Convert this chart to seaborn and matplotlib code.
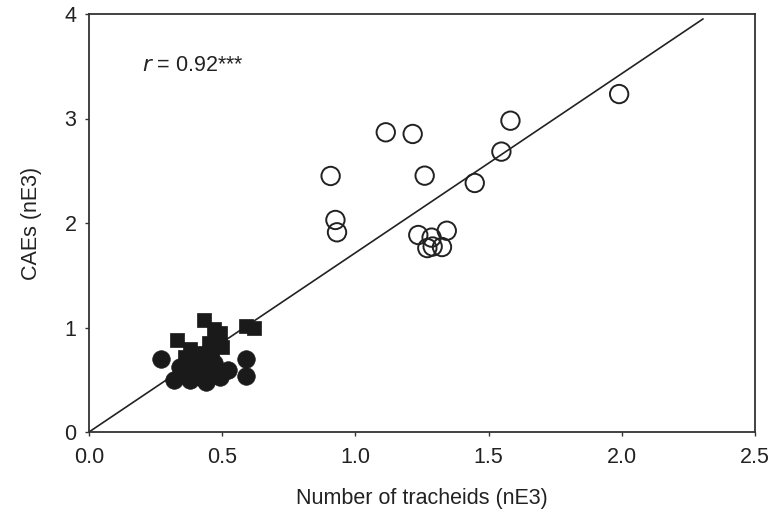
import matplotlib
matplotlib.use("Agg")
import matplotlib.pyplot as plt
import seaborn as sns
import pandas as pd
import numpy as np

sns.set_theme(style="white")
plt.rcParams['font.family'] = ['Liberation Sans', 'DejaVu Sans']

# Open circles
open_x = [1.114, 1.215, 0.907, 1.260, 1.582, 1.548, 1.990, 1.448, 0.925, 0.931,
          1.236, 1.286, 1.343, 1.270, 1.290, 1.325]
open_y = [2.868, 2.852, 2.450, 2.453, 2.979, 2.683, 3.234, 2.383, 2.029, 1.911,
          1.885, 1.860, 1.926, 1.760, 1.775, 1.770]

# Filled squares
sq_x = [0.43, 0.59, 0.62, 0.33, 0.47, 0.48, 0.50, 0.38, 0.43, 0.40, 0.46, 0.36, 0.49, 0.45, 0.42]
sq_y = [1.07, 1.01, 1.00, 0.88, 0.99, 0.92, 0.81, 0.79, 0.76, 0.69, 0.72, 0.72, 0.95, 0.85, 0.62]

# Filled circles
fc_x = [0.27, 0.59, 0.59, 0.52, 0.32, 0.38, 0.44, 0.49, 0.34, 0.40, 0.45, 0.47, 0.36, 0.42, 0.47]
fc_y = [0.70, 0.70, 0.54, 0.59, 0.50, 0.50, 0.48, 0.53, 0.62, 0.56, 0.60, 0.55, 0.58, 0.53, 0.66]

# Regression line through origin
line_slope = 1.715
line_x = [0.0, 2.305]

x_ticks = [0.0, 0.5, 1.0, 1.5, 2.0, 2.5]
y_ticks = [0, 1, 2, 3, 4]

fig = plt.figure(figsize=(7.75, 5.14), dpi=100)
ax = fig.add_axes([89/775, 82/514, 666/775, 418/514])

line_df = pd.DataFrame({"x": line_x, "y": [v * line_slope for v in line_x]})
sns.lineplot(data=line_df, x="x", y="y", ax=ax, color="#222222", linewidth=1.2)

sns.scatterplot(x=fc_x, y=fc_y, ax=ax, marker="o", s=160, color="#1a1a1a",
                edgecolor="#1a1a1a", linewidth=0.5, zorder=3)
sns.scatterplot(x=sq_x, y=sq_y, ax=ax, marker="s", s=110, color="#1a1a1a",
                edgecolor="#1a1a1a", linewidth=0.5, zorder=3)
sns.scatterplot(x=open_x, y=open_y, ax=ax, marker="o", s=175, facecolor="none",
                edgecolor="#222222", linewidth=1.4, zorder=3)

ax.set_xlim(0, 2.5)
ax.set_ylim(0, 4)
ax.set_xticks(x_ticks)
ax.set_xticklabels([f"{v:.1f}" for v in x_ticks])
ax.set_yticks(y_ticks)
ax.set_yticklabels([str(v) for v in y_ticks])

for sp in ax.spines.values():
    sp.set_visible(True)
    sp.set_color("#333333")
    sp.set_linewidth(1.3)

ax.tick_params(axis="both", which="major", direction="out", length=3, width=1.0,
               color="#333333", labelsize=15.5, labelcolor="#222222",
               bottom=True, left=True)
ax.tick_params(axis="x", pad=8)
ax.tick_params(axis="y", pad=6)

ax.set_xlabel("Number of tracheids (nE3)", fontsize=15.5, color="#222222", labelpad=14)
ax.set_ylabel("CAEs (nE3)", fontsize=15.5, color="#222222", labelpad=16)

ax.text(0.199, 3.51, r"$\it{r}$ = 0.92***", fontsize=15.5, color="#222222",
        va="center", ha="left")

fig.savefig("out.png", dpi=100)
